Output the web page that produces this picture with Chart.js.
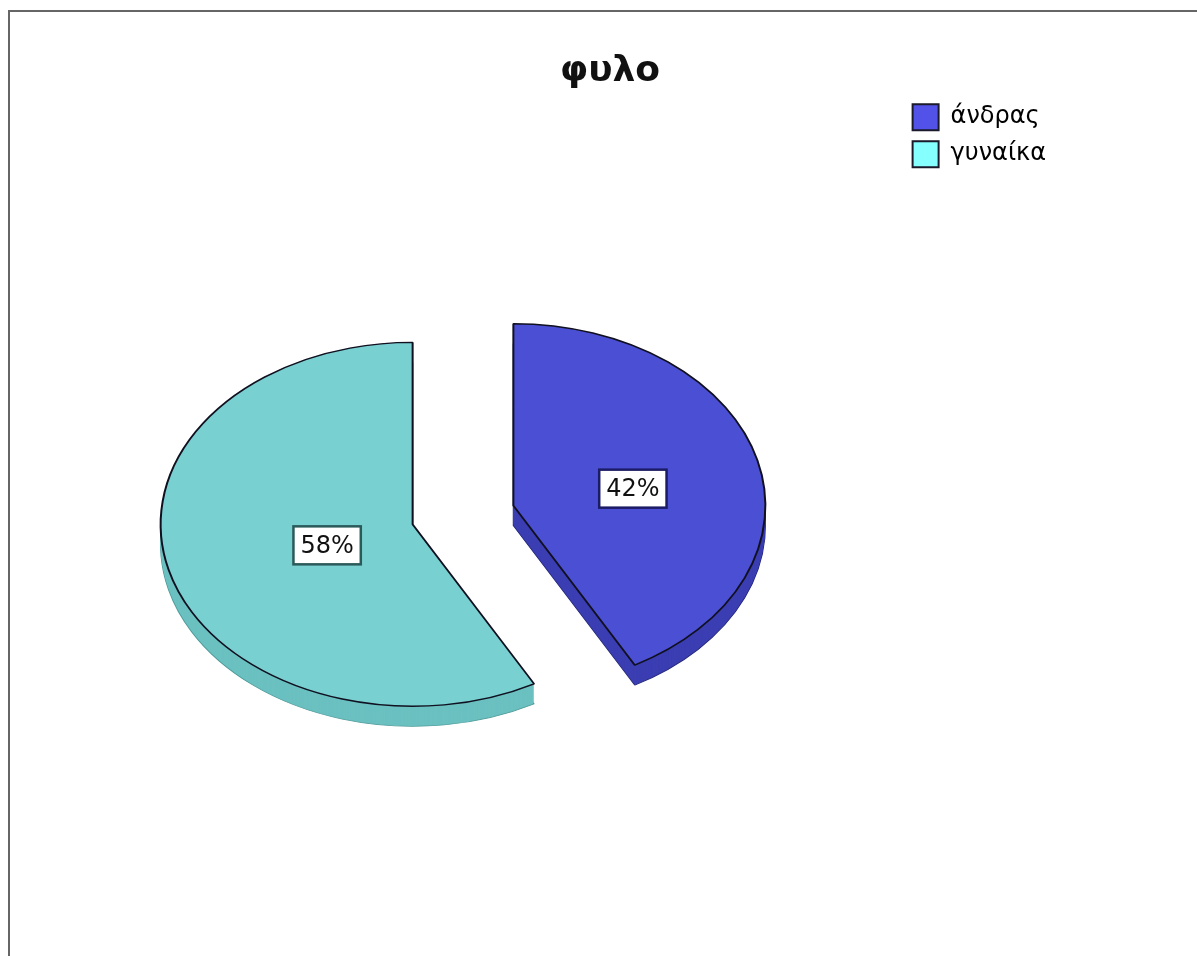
<!DOCTYPE html>
<html>
<head>
<meta charset="utf-8">
<script src="https://cdn.jsdelivr.net/npm/chart.js@4/dist/chart.umd.min.js"></script>
<style>
  html, body { margin: 0; padding: 0; background: #fff; overflow: hidden; }
  .frame { position: absolute; left: 8px; top: 10px; width: 1400px; height: 1200px;
           border-top: 2px solid #666; border-left: 2px solid #666; }
  canvas { position: absolute; left: 0; top: 0; }
</style>
</head>
<body>
<div class="frame"></div>
<canvas id="sexPie" width="1197" height="956"></canvas>
<script>
// data
const categories = ["άνδρας", "γυναίκα"];
const shares = [42, 58];

// colours
const topColors = ["#4b4fd3", "#79d0d0"];
const sideColors = ["#3b3eb2", "#6bc0c0"];
const edgeColors = ["#25287e", "#4f9c9c"];
const legendColors = ["#5252e8", "#86ffff"];
const labelBorders = ["#1c1c66", "#2b5a5a"];

// pie geometry (screen space)
const CX = 463, CY = 515, RADIUS = 252, TILT = 0.722, EXPLODE = 52, DEPTH = 20;
const LABEL_R = 0.42, LABEL_DX = 17;

const pie3d = {
    id: "pie3d",
    beforeDatasetsDraw(chart) {
        const ctx = chart.ctx;
        const arcs = chart.getDatasetMeta(0).data;

        function drawArc(arc, dy, fill, stroke, lw) {
            const half = (arc.startAngle + arc.endAngle) / 2;
            const s = RADIUS / arc.outerRadius;
            ctx.save();
            ctx.translate(CX, CY + dy);
            ctx.scale(s, s * TILT);
            ctx.translate(-arc.x + Math.cos(half) * EXPLODE / s, -arc.y + Math.sin(half) * EXPLODE / s);
            const orig = arc.options;
            arc.options = Object.assign({}, orig, {
                backgroundColor: fill, borderColor: stroke, borderWidth: lw / s, offset: 0, borderAlign: "center"
            });
            arc.draw(ctx);
            arc.options = orig;
            ctx.restore();
        }

        // side walls
        arcs.forEach((arc, i) => {
            drawArc(arc, DEPTH, sideColors[i], edgeColors[i], 1.2);
            for (let d = DEPTH - 1; d > 0; d--) {
                drawArc(arc, d, sideColors[i], sideColors[i], 0);
            }
        });
        // top faces
        arcs.forEach((arc, i) => {
            drawArc(arc, 0, topColors[i], "#101020", 2);
        });

        // percentage labels
        ctx.save();
        ctx.font = "24px 'DejaVu Sans'";
        ctx.textAlign = "center";
        ctx.textBaseline = "middle";
        arcs.forEach((arc, i) => {
            const half = (arc.startAngle + arc.endAngle) / 2;
            const r = EXPLODE + LABEL_R * RADIUS;
            const lx = CX + LABEL_DX + Math.cos(half) * r;
            const ly = CY + Math.sin(half) * r * TILT + 2;
            const text = shares[i] + "%";
            const w = ctx.measureText(text).width + 14;
            const h = 38;
            ctx.fillStyle = "#ffffff";
            ctx.fillRect(lx - w / 2, ly - h / 2, w, h);
            ctx.strokeStyle = labelBorders[i];
            ctx.lineWidth = 2.5;
            ctx.strokeRect(lx - w / 2, ly - h / 2, w, h);
            ctx.fillStyle = "#111";
            ctx.fillText(text, lx, ly + 1);
        });
        ctx.restore();
        return false;
    }
};

new Chart(document.getElementById("sexPie"), {
    type: "pie",
    data: {
        labels: categories,
        datasets: [{
            data: shares,
            backgroundColor: topColors,
            borderColor: "#101020",
            borderWidth: 2
        }]
    },
    options: {
        responsive: false,
        animation: false,
        layout: { padding: { top: 20, left: 164, right: 141, bottom: 40 } },
        plugins: {
            tooltip: { enabled: false },
            title: {
                display: true,
                text: "φυλο",
                color: "#111",
                font: { family: "'DejaVu Sans'", size: 36, weight: "bold" },
                padding: { top: 30, bottom: 0 }
            },
            legend: {
                position: "right",
                align: "start",
                fullSize: false,
                labels: {
                    boxWidth: 26,
                    boxHeight: 26,
                    padding: 11,
                    color: "#222",
                    font: { family: "'DejaVu Sans'", size: 24 },
                    generateLabels(chart) {
                        return categories.map((c, i) => ({
                            text: c,
                            fillStyle: legendColors[i],
                            strokeStyle: "#1a1a2a",
                            lineWidth: 2,
                            index: i,
                            datasetIndex: 0
                        }));
                    }
                }
            }
        }
    },
    plugins: [pie3d]
});
</script>
</body>
</html>
